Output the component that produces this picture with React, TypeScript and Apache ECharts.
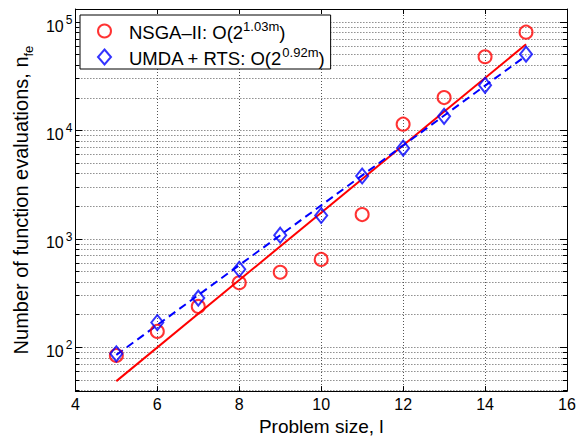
import React, { useEffect, useRef } from "react";
import * as echarts from "echarts";

const problemSizes = [5, 6, 7, 8, 9, 10, 11, 12, 13, 14, 15];
const nsgaValues = [84, 140, 238, 393, 492, 646, 1675, 11430, 20100, 47900, 80700];
const umdaValues = [87, 169, 284, 524, 1081, 1641, 3802, 6870, 13500, 26100, 50600];
const nsgaFitX = [5, 15];
const nsgaFitY = [48.7, 62400];
const umdaFitX = [5, 15];
const umdaFitY = [85, 48900];
const yMajor = [100, 1000, 10000, 100000];
const yMinor = [
  40, 50, 60, 70, 80, 90,
  200, 300, 400, 500, 600, 700, 800, 900,
  2000, 3000, 4000, 5000, 6000, 7000, 8000, 9000,
  20000, 30000, 40000, 50000, 60000, 70000, 80000, 90000,
];
const Y_MIN = 39.4;
const Y_MAX = 132000;

const FONT = "'Liberation Sans', Arial, Helvetica, sans-serif";
const gridLine = { show: true, lineStyle: { color: "#555", width: 1, type: [1, 2] as any } };

export default function App() {
  const ref = useRef<HTMLDivElement>(null);
  useEffect(() => {
    const chart = echarts.init(ref.current!, null, { renderer: "svg" });
    const yAxisCommon = {
      type: "log",
      logBase: 10,
      min: Y_MIN,
      max: Y_MAX,
    };
    chart.setOption({
      animation: false,
      backgroundColor: "#fff",
      textStyle: { fontFamily: FONT },
      grid: { left: 74, right: 16, top: 9, bottom: 43, containLabel: false },
      legend: {
        left: 80,
        top: 15,
        orient: "vertical",
        backgroundColor: "#fff",
        borderColor: "#000",
        borderWidth: 1,
        borderRadius: 0,
        padding: [5, 6, 1, 17],
        itemGap: 4,
        itemWidth: 13,
        itemHeight: 15,
        selectedMode: false,
        data: [
          { name: "NSGA", icon: "circle", itemStyle: { color: "transparent", borderColor: "#ff0000", borderWidth: 2 } },
          { name: "UMDA", icon: "diamond", itemStyle: { color: "transparent", borderColor: "#0000ff", borderWidth: 2 } },
        ],
        formatter: (name: string) =>
          name === "NSGA"
            ? "{g|}{t|NSGA–II: O(2}{s|1.03m}{t|)}"
            : "{g|}{t|UMDA + RTS: O(2}{s|0.92m}{t|)}",
        textStyle: {
          fontSize: 18.5,
          color: "#000",
          rich: {
            g: { width: 13, lineHeight: 22 },
            t: { fontSize: 18.5, fontFamily: FONT, color: "#000", lineHeight: 22, verticalAlign: "bottom" },
            s: { fontSize: 13, fontFamily: FONT, color: "#000", lineHeight: 13, verticalAlign: "top" },
          },
        },
      },
      xAxis: [
        {
          type: "value",
          min: 4,
          max: 16,
          interval: 2,
          position: "bottom",
          name: "Problem size, l",
          nameLocation: "middle",
          nameGap: 21,
          nameTextStyle: { fontSize: 19, color: "#000", fontFamily: FONT },
          axisLine: { show: true, lineStyle: { color: "#000", width: 1 } },
          axisTick: { show: true, inside: true, length: 5, lineStyle: { color: "#000" } },
          axisLabel: { fontSize: 16, color: "#000", margin: 5, fontFamily: FONT },
          splitLine: gridLine,
        },
        {
          type: "value",
          min: 4,
          max: 16,
          interval: 2,
          position: "top",
          axisLine: { show: true, lineStyle: { color: "#000", width: 1 } },
          axisTick: { show: true, inside: true, length: 5, lineStyle: { color: "#000" } },
          axisLabel: { show: false },
          splitLine: { show: false },
        },
      ],
      yAxis: [
        {
          ...yAxisCommon,
          position: "left",
          name: "{t|Number of function evaluations, n}{s|fe}",
          nameLocation: "middle",
          nameGap: 35,
          nameTextStyle: {
            rich: {
              t: { fontSize: 20, fontFamily: FONT, color: "#000", lineHeight: 24, verticalAlign: "top" },
              s: { fontSize: 13, fontFamily: FONT, color: "#000", lineHeight: 13, verticalAlign: "bottom", padding: [14, 0, 0, 0] },
            },
          },
          axisLine: { show: true, onZero: false, lineStyle: { color: "#000", width: 1 } },
          axisTick: { show: true, inside: true, length: 7, customValues: yMajor, lineStyle: { color: "#000" } },
          axisLabel: {
            customValues: yMajor,
            margin: 3,
            padding: [4, 0, 0, 0],
            formatter: (v: number) => `{base|10}{sup|${Math.round(Math.log10(v))}}`,
            rich: {
              base: { fontSize: 16, fontFamily: FONT, color: "#000", lineHeight: 20, verticalAlign: "bottom" },
              sup: { fontSize: 12, fontFamily: FONT, color: "#000", lineHeight: 12, verticalAlign: "top", padding: [0, 0, 0, 2] },
            },
          },
          splitLine: gridLine,
        },
        {
          ...yAxisCommon,
          position: "left",
          axisLine: { show: false },
          axisTick: { show: true, inside: true, length: 4, customValues: yMinor, lineStyle: { color: "#000" } },
          axisLabel: { show: false },
          splitLine: gridLine,
        },
        {
          ...yAxisCommon,
          position: "right",
          axisLine: { show: true, onZero: false, lineStyle: { color: "#000", width: 1 } },
          axisTick: { show: true, inside: true, length: 7, customValues: yMajor, lineStyle: { color: "#000" } },
          axisLabel: { show: false },
          splitLine: { show: false },
        },
        {
          ...yAxisCommon,
          position: "right",
          axisLine: { show: false },
          axisTick: { show: true, inside: true, length: 4, customValues: yMinor, lineStyle: { color: "#000" } },
          axisLabel: { show: false },
          splitLine: { show: false },
        },
      ],
      series: [
        {
          name: "NSGA fit",
          type: "line",
          xAxisIndex: 0,
          yAxisIndex: 0,
          data: nsgaFitX.map((x, i) => [x, nsgaFitY[i]]),
          symbol: "none",
          lineStyle: { color: "#ff0000", width: 2 },
          z: 3,
        },
        {
          name: "UMDA fit",
          type: "line",
          xAxisIndex: 0,
          yAxisIndex: 0,
          data: umdaFitX.map((x, i) => [x, umdaFitY[i]]),
          symbol: "none",
          lineStyle: { color: "#0000ff", width: 2, type: [8, 5] },
          z: 3,
        },
        {
          name: "NSGA",
          type: "scatter",
          xAxisIndex: 0,
          yAxisIndex: 0,
          data: problemSizes.map((x, i) => [x, nsgaValues[i]]),
          symbol: "circle",
          symbolSize: 13,
          itemStyle: { color: "transparent", borderColor: "#ff0000", borderWidth: 2 },
          z: 4,
        },
        {
          name: "UMDA",
          type: "scatter",
          xAxisIndex: 0,
          yAxisIndex: 0,
          data: problemSizes.map((x, i) => [x, umdaValues[i]]),
          symbol: "diamond",
          symbolSize: [12, 15],
          itemStyle: { color: "transparent", borderColor: "#0000ff", borderWidth: 2 },
          z: 4,
        },
      ],
    });
    return () => chart.dispose();
  }, []);
  return (
    <div
      ref={ref}
      style={{ position: "fixed", left: 0, top: 0, width: 583, height: 441, background: "#fff" }}
    />
  );
}
